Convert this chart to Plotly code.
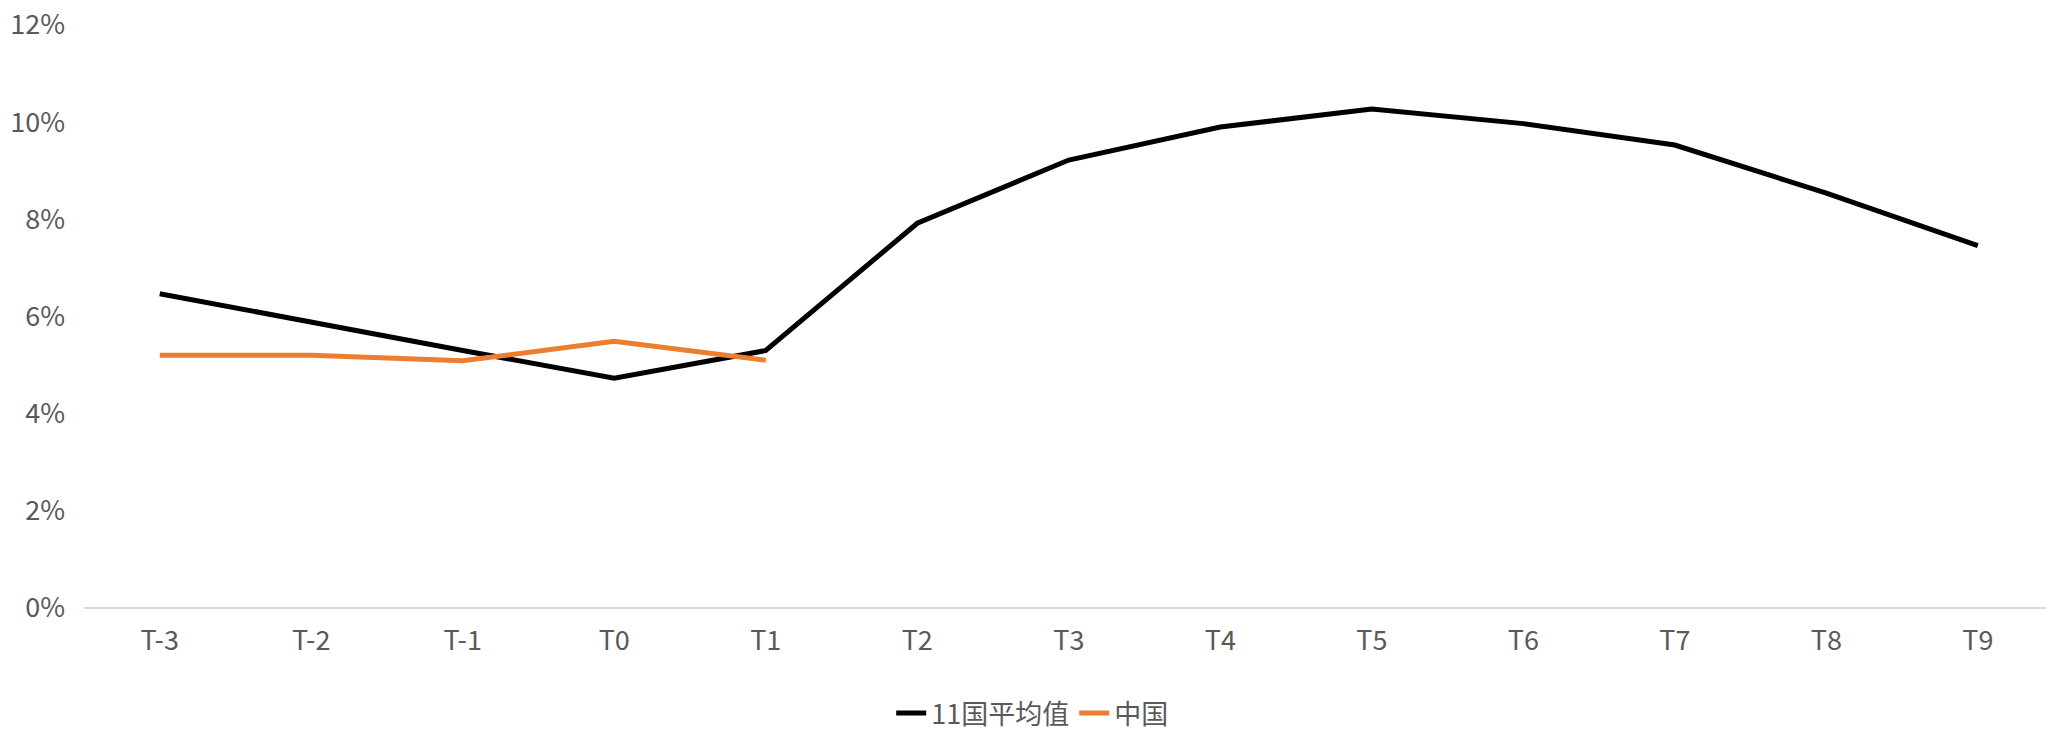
import plotly.graph_objects as go

categories = ["T-3", "T-2", "T-1", "T0", "T1", "T2", "T3", "T4", "T5", "T6", "T7", "T8", "T9"]
avg11 = [0.0647, 0.0588, 0.0530, 0.0473, 0.0530, 0.0792, 0.0922, 0.0990, 0.1027, 0.0997, 0.0953, 0.0854, 0.0746]
china_cats = ["T-3", "T-2", "T-1", "T0", "T1"]
china = [0.0520, 0.0520, 0.0509, 0.0549, 0.0510]

FONT = "Noto Sans CJK SC"
GRAY = "#595959"

fig = go.Figure()
fig.add_trace(go.Scatter(x=categories, y=avg11, mode="lines", name="11国平均值",
                         line=dict(color="#000000", width=5)))
fig.add_trace(go.Scatter(x=china_cats, y=china, mode="lines", name="中国",
                         line=dict(color="#ED7D31", width=5)))

fig.update_layout(
    width=2046, height=731,
    margin=dict(l=84, r=0, t=25, b=123, autoexpand=False),
    paper_bgcolor="white", plot_bgcolor="white",
    font=dict(family=FONT, size=27, color=GRAY),
    showlegend=True,
    legend=dict(orientation="h", x=0.5045, xref="container", xanchor="center",
                y=0.024, yref="container", yanchor="middle",
                font=dict(family=FONT, size=27, color=GRAY), itemwidth=30,
                tracegroupgap=0),
)
fig.update_xaxes(type="category", categoryorder="array", categoryarray=categories,
                 range=[-0.5, 12.45], showgrid=False, showline=False, zeroline=False,
                 ticks="", ticklabelstandoff=14, automargin=False,
                 tickfont=dict(family=FONT, size=27, color=GRAY))
fig.update_yaxes(range=[0, 0.12], dtick=0.02, tickformat=".0%", showgrid=False,
                 zeroline=True, zerolinecolor="#D9D9D9", zerolinewidth=2,
                 showline=False, ticks="", ticklabelstandoff=18, automargin=False,
                 tickfont=dict(family=FONT, size=27, color=GRAY))

fig.write_html("out.html")
